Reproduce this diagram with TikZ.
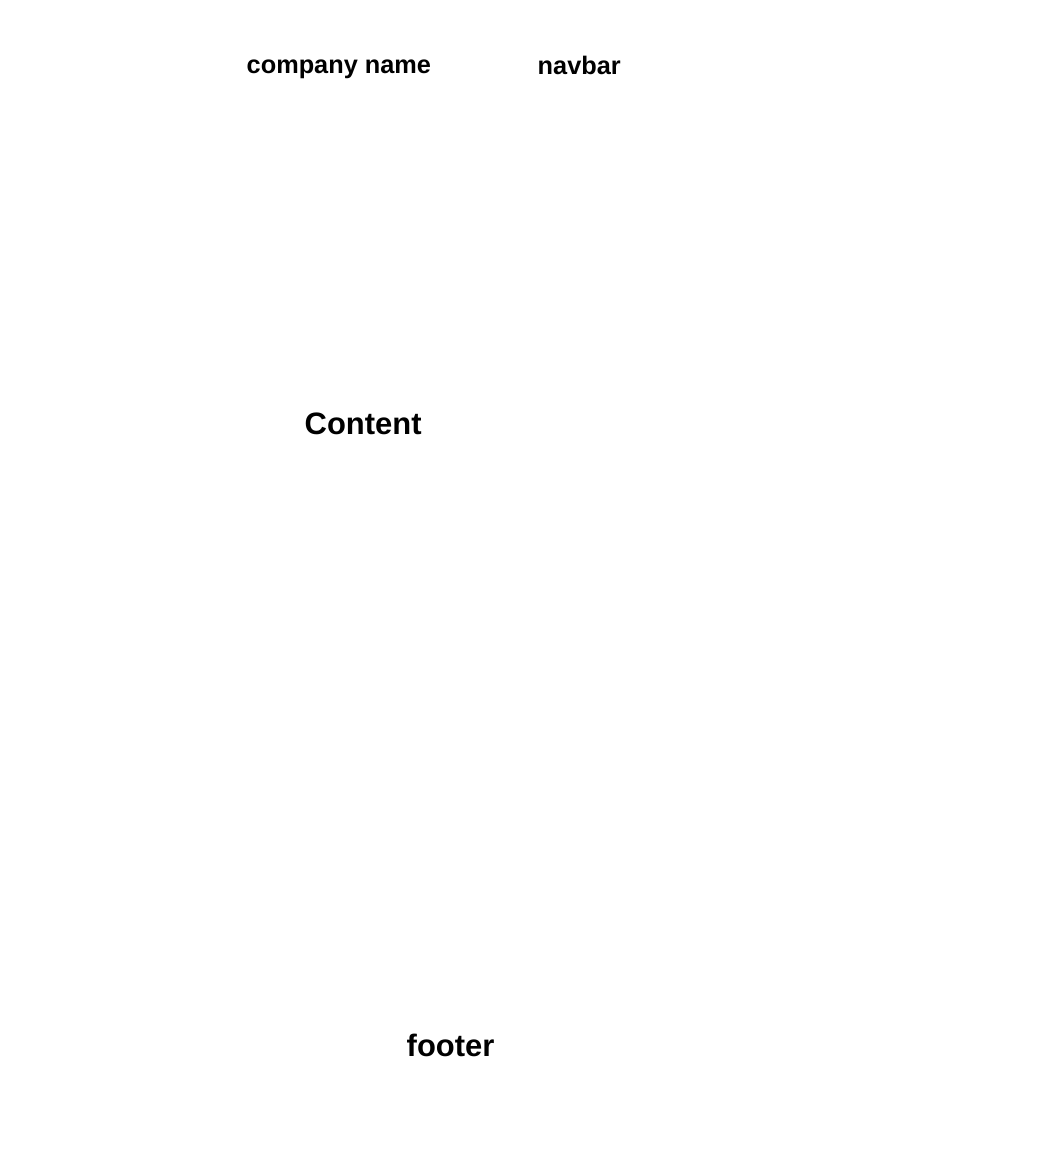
\documentclass[tikz,border=0pt]{standalone}
\usepackage{fontspec}
\setmainfont{Liberation Sans}
\begin{document}
\begin{tikzpicture}[x=0.01cm,y=-0.01cm,
  lbl/.style={inner sep=0pt,anchor=base west,font=\bfseries}]
\useasboundingbox[fill=white] (0,0) rectangle (1052,1163);
\node[lbl,font=\fontsize{7.2pt}{8pt}\selectfont\bfseries] (company) at (246,73) {company name};
\node[lbl,font=\fontsize{7.2pt}{8pt}\selectfont\bfseries] (navbar) at (537,74.5) {navbar};
\node[lbl,font=\fontsize{8.8pt}{10pt}\selectfont\bfseries] (content) at (304,434) {Content};
\node[lbl,font=\fontsize{8.8pt}{10pt}\selectfont\bfseries] (footer) at (406,1056) {footer};
\end{tikzpicture}
\end{document}
